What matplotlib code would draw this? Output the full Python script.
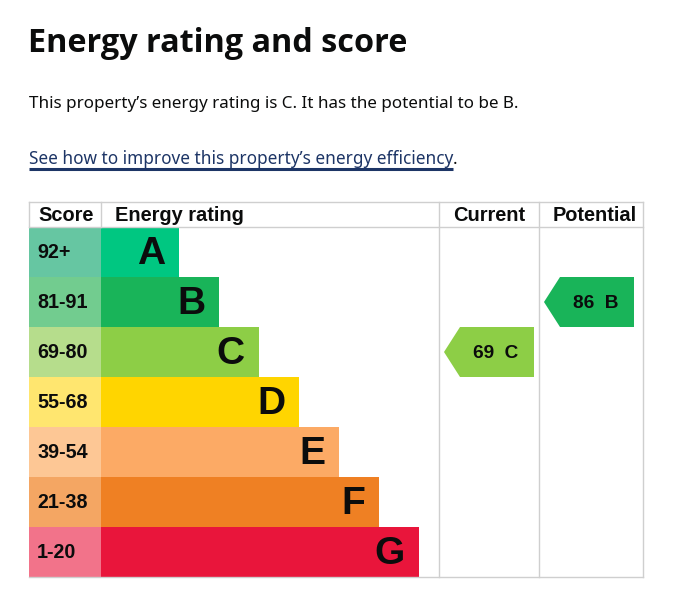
import matplotlib
matplotlib.use("Agg")
import matplotlib.pyplot as plt
from matplotlib.patches import Polygon, Rectangle

# ratings data
bands = ["A", "B", "C", "D", "E", "F", "G"]
score_ranges = ["92+", "81-91", "69-80", "55-68", "39-54", "21-38", "1-20"]
band_min = [92, 81, 69, 55, 39, 21, 1]
bar_colors = ["#00c781", "#19b459", "#8dce46", "#ffd500", "#fcaa65", "#ef8023", "#e9153b"]
score_colors = ["#66c6a2", "#72cc8f", "#b6dd8c", "#ffe66f", "#fdc795", "#f4a663", "#f2738a"]
current_score = 69
potential_score = 86

title = "Energy rating and score"
summary = "This property\u2019s energy rating is C. It has the potential to be B."
link_text = "See how to improve this property\u2019s energy efficiency"


def band_of(score):
    for i, lo in enumerate(band_min):
        if score >= lo:
            return i
    return len(bands) - 1


W, H = 696, 603
fig = plt.figure(figsize=(W / 100, H / 100), dpi=100)
ax = fig.add_axes([0, 0, 1, 1])
ax.set_xlim(0, W)
ax.set_ylim(H, 0)
ax.axis("off")

PT = 0.72  # px -> pt at dpi 100
body_font = ["Noto Sans", "DejaVu Sans"]
title_font = ["Open Sans", "DejaVu Sans"]
table_font = ["Liberation Sans", "DejaVu Sans"]

ax.text(28, 43, title, fontsize=32.4 * PT, fontweight="bold", family=title_font,
        color="#0b0c0c", va="center", ha="left")
ax.text(29, 104, summary, fontsize=17.05 * PT, family=body_font,
        color="#0b0c0c", va="center", ha="left")
lt = ax.text(29, 159, link_text, fontsize=17.2 * PT, family=body_font,
             color="#1d3566", va="center", ha="left")
fig.canvas.draw()
bb = lt.get_window_extent().transformed(ax.transData.inverted())
x_end = bb.x1
ax.plot([29, x_end], [169, 169], color="#1d3566", lw=2.2, solid_capstyle="butt")
ax.text(x_end, 159, ".", fontsize=17.2 * PT, family=body_font,
        color="#0b0c0c", va="center", ha="left")

# table geometry
left, score_w, bar_x0 = 29, 72, 101
col_cur, col_pot, right = 439, 539, 643
top, head_h, row_h = 202, 25, 50
rows_top = top + head_h
grid = "#cfcfcf"

# grid lines
ax.plot([left, right], [top, top], color=grid, lw=1)
ax.plot([left, right], [rows_top, rows_top], color=grid, lw=1)
for x in [left, bar_x0]:
    ax.plot([x, x], [top, rows_top], color=grid, lw=1)
for x in [col_cur, col_pot, right]:
    ax.plot([x, x], [top, rows_top + row_h * len(bands)], color=grid, lw=1)
ax.plot([left, right], [rows_top + row_h * len(bands)] * 2, color=grid, lw=1)

hdr_y = top + head_h / 2 + 1
hkw = dict(fontsize=20 * PT, fontweight="bold", family=table_font, color="#0b0c0c", va="center")
ax.text(left + score_w / 2 + 1, hdr_y, "Score", ha="center", **hkw)
ax.text(bar_x0 + 14, hdr_y, "Energy rating", ha="left", **hkw)
ax.text((col_cur + col_pot) / 2, hdr_y, "Current", ha="center", **hkw)
ax.text((col_pot + right) / 2 + 4, hdr_y, "Potential", ha="center", **hkw)

# rating bars
for i, (b, rng) in enumerate(zip(bands, score_ranges)):
    y0 = rows_top + i * row_h
    ax.add_patch(Rectangle((left, y0), score_w, row_h, color=score_colors[i], lw=0))
    bw = 78 + 40 * i
    ax.add_patch(Rectangle((bar_x0, y0), bw, row_h, color=bar_colors[i], lw=0))
    ax.text(left + 8, y0 + row_h / 2 + 1, rng, fontsize=19.8 * PT, fontweight="bold",
            family=table_font, color="#0b0c0c", va="center", ha="left")
    ax.text(bar_x0 + bw - 14, y0 + row_h / 2 + 2, b, fontsize=39 * PT, fontweight="bold",
            family=table_font, color="#0b0c0c", va="center", ha="right")


def arrow(col_x, score):
    i = band_of(score)
    y0 = rows_top + i * row_h
    tip_x, x1 = col_x + 5, col_x + 95
    pts = [(tip_x, y0 + row_h / 2), (tip_x + 16, y0), (x1, y0), (x1, y0 + row_h), (tip_x + 16, y0 + row_h)]
    ax.add_patch(Polygon(pts, closed=True, color=bar_colors[i], lw=0))
    ax.text((tip_x + x1) / 2 + 7, y0 + row_h / 2 + 1, f"{score}  {bands[i]}", fontsize=19 * PT,
            fontweight="bold", family=table_font, color="#0b0c0c", va="center", ha="center")


arrow(col_cur, current_score)
arrow(col_pot, potential_score)

fig.savefig("out.png", dpi=100)
